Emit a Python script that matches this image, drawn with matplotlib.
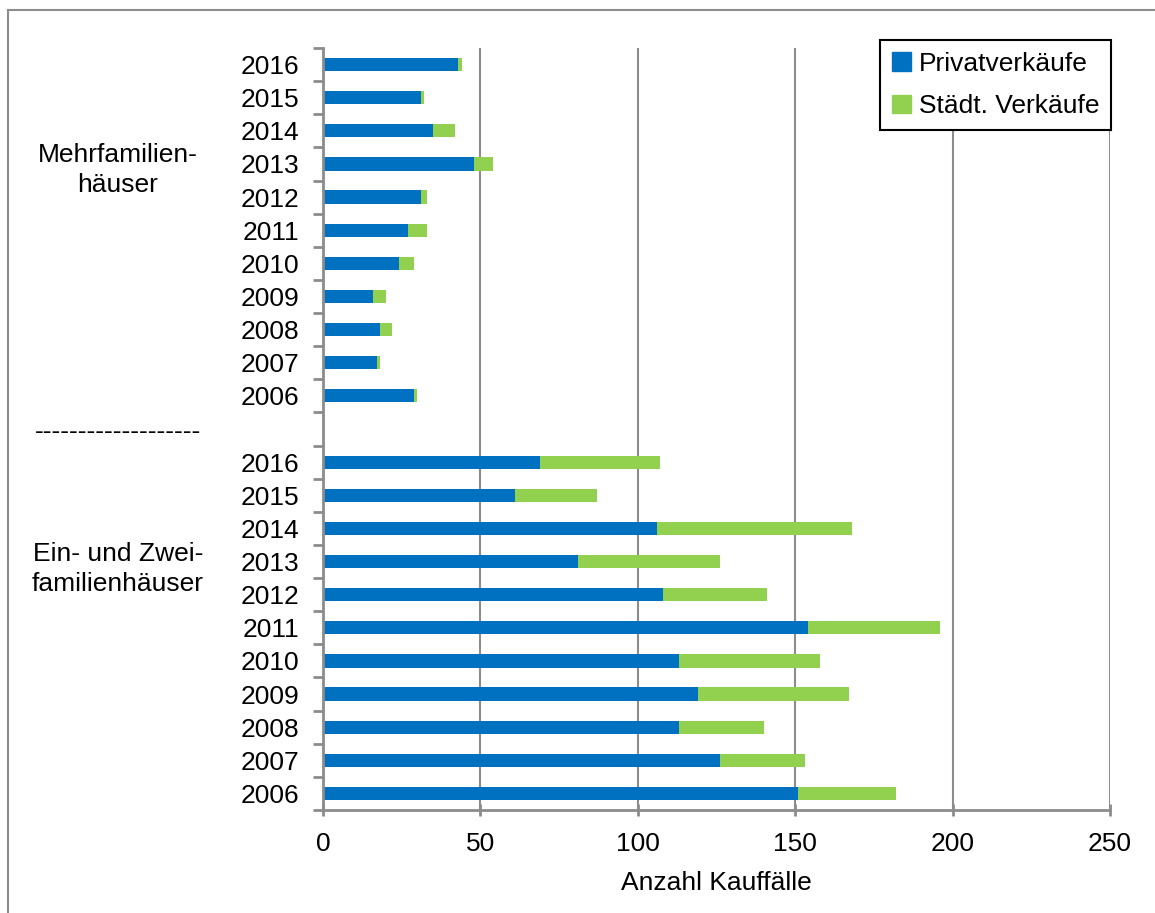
import numpy as np
import matplotlib
matplotlib.use("Agg")
import matplotlib.pyplot as plt
from matplotlib.patches import Patch
from matplotlib.lines import Line2D

plt.rcParams["font.family"] = ["Liberation Sans", "DejaVu Sans"]

# years listed top to bottom in each group
years = ["2016", "2015", "2014", "2013", "2012", "2011", "2010", "2009", "2008", "2007", "2006"]

# Mehrfamilienhäuser
mfh_privat = [43, 31, 35, 48, 31, 27, 24, 16, 18, 17, 29]
mfh_staedt = [1, 1, 7, 6, 2, 6, 5, 4, 4, 1, 1]

# Ein- und Zweifamilienhäuser
efh_privat = [69, 61, 106, 81, 108, 154, 113, 119, 113, 126, 151]
efh_staedt = [38, 26, 62, 45, 33, 42, 45, 48, 27, 27, 31]

series_names = ["Privatverkäufe", "Städt. Verkäufe"]
x_ticks = [0, 50, 100, 150, 200, 250]

BLUE = "#0070C0"
GREEN = "#92D050"
GREY = "#8c8c8c"
FS = 19

labels = years + [""] + years
privat = mfh_privat + [0] + efh_privat
staedt = mfh_staedt + [0] + efh_staedt
pos = np.arange(len(labels))

fig = plt.figure(figsize=(11.55, 9.13), dpi=100)
ax = fig.add_axes([323 / 1155, 1 - 810 / 913, (1110 - 323) / 1155, (810 - 48) / 913])

ax.barh(pos, privat, height=0.4, color=BLUE, zorder=3)
ax.barh(pos, staedt, left=privat, height=0.4, color=GREEN, zorder=3)

ax.set_ylim(len(labels) - 0.5, -0.5)
ax.set_xlim(0, 250)
ax.set_xticks(x_ticks)
ax.set_yticks(pos)
ax.set_yticklabels(labels, fontsize=FS)
ax.set_yticks(np.arange(-0.5, len(labels)), minor=True)
ax.tick_params(axis="y", which="major", length=0, pad=17)
ax.tick_params(axis="y", which="minor", length=7, width=2, color=GREY, direction="out")
ax.tick_params(axis="x", length=9, width=2, color=GREY, direction="inout", labelsize=FS, pad=11)

ax.grid(axis="x", color=GREY, linewidth=1.5, zorder=0)
for side in ["top", "right"]:
    ax.spines[side].set_visible(False)
for side in ["left", "bottom"]:
    ax.spines[side].set_color(GREY)
    ax.spines[side].set_linewidth(2)
    ax.spines[side].set_zorder(4)

ax.set_xlabel("Anzahl Kauffälle", fontsize=FS, labelpad=11)

# group labels on the left
fig.text(118 / 1155, 1 - 170 / 913, "Mehrfamilien-\nhäuser", fontsize=FS,
         ha="center", va="center", linespacing=1.3)
fig.text(118 / 1155, 1 - 569 / 913, "Ein- und Zwei-\nfamilienhäuser", fontsize=FS,
         ha="center", va="center", linespacing=1.35)
fig.text(35 / 1155, 1 - 432 / 913, "-" * 19, fontsize=FS, ha="left", va="center")

handles = [Patch(color=BLUE), Patch(color=GREEN)]
ax.legend(handles, series_names, loc="upper right",
          bbox_to_anchor=(1111 / 1155, 1 - 40 / 913), bbox_transform=fig.transFigure,
          borderaxespad=0, fontsize=FS, frameon=True, fancybox=False,
          edgecolor="black", framealpha=1, handlelength=0.7, handleheight=0.7,
          handletextpad=0.3, labelspacing=0.7, borderpad=0.45)
ax.get_legend().get_frame().set_linewidth(1.5)

# outer frame (cut at right and bottom)
fig.add_artist(Line2D([8 / 1155, 8 / 1155], [0, 1 - 10 / 913], color=GREY, linewidth=1.5,
                      transform=fig.transFigure))
fig.add_artist(Line2D([8 / 1155, 1], [1 - 10 / 913, 1 - 10 / 913], color=GREY, linewidth=1.5,
                      transform=fig.transFigure))

fig.savefig("out.png", dpi=100)
